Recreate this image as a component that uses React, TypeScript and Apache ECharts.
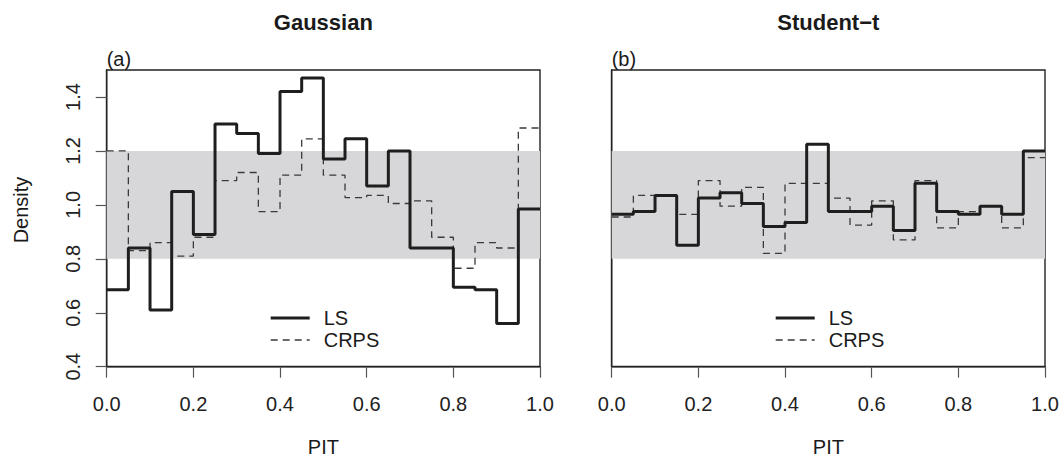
import React, { useEffect, useRef } from 'react';
import * as echarts from 'echarts';

const binEdges = [0, 0.05, 0.1, 0.15, 0.2, 0.25, 0.3, 0.35, 0.4, 0.45, 0.5, 0.55, 0.6, 0.65, 0.7, 0.75, 0.8, 0.85, 0.9, 0.95, 1.0];

const gaussLS = [0.685, 0.84, 0.61, 1.05, 0.89, 1.3, 1.265, 1.19, 1.42, 1.47, 1.17, 1.245, 1.07, 1.2, 0.84, 0.84, 0.695, 0.685, 0.56, 0.985];
const gaussCRPS = [1.2, 0.83, 0.86, 0.81, 0.88, 1.09, 1.12, 0.975, 1.11, 1.245, 1.11, 1.027, 1.035, 1.005, 1.015, 0.88, 0.765, 0.86, 0.84, 1.285];
const studLS = [0.965, 0.975, 1.035, 0.85, 1.025, 1.045, 1.005, 0.92, 0.935, 1.225, 0.975, 0.975, 0.995, 0.905, 1.08, 0.975, 0.965, 0.995, 0.965, 1.2];
const studCRPS = [0.955, 1.035, 1.035, 0.965, 1.09, 0.995, 1.065, 0.82, 1.08, 1.08, 1.025, 0.925, 1.015, 0.87, 1.09, 0.915, 0.975, 0.995, 0.915, 1.175];

const bandRange = [0.8, 1.2];
const xTicks = [0, 0.2, 0.4, 0.6, 0.8, 1.0];
const yTicks = [0.4, 0.6, 0.8, 1.0, 1.2, 1.4];
const panelTitles = ['Gaussian', 'Student\u2212t'];
const panelTags = ['(a)', '(b)'];
const legendNames = ['LS', 'CRPS'];

const toSteps = (vals: number[]) =>
  binEdges.map((e, i) => [e, vals[Math.min(i, vals.length - 1)]]);

const FONT = 'Liberation Sans, Arial, Helvetica, sans-serif';
const FS = 20;
const GRID_LEFTS = [106.7, 611.7];
const GRID_TOP = 70;
const GRID_W = 433.3;
const GRID_H = 296.7;

function buildOption() {
  const grids = GRID_LEFTS.map((left) => ({
    left,
    top: GRID_TOP,
    width: GRID_W,
    height: GRID_H,
    show: true,
    borderColor: '#222',
    borderWidth: 1.4,
    backgroundColor: 'transparent',
  }));

  const xAxes = GRID_LEFTS.map((_, gi) => ({
    type: 'value',
    gridIndex: gi,
    min: xTicks[0],
    max: xTicks[xTicks.length - 1],
    interval: 0.2,
    axisLine: { show: true, onZero: false, lineStyle: { color: '#222', width: 1.4 } },
    axisTick: { show: true, length: 11, lineStyle: { color: '#555', width: 1.2 } },
    axisLabel: {
      fontSize: FS,
      fontFamily: FONT,
      color: '#222',
      margin: 27,
      formatter: (v: number) => v.toFixed(1),
    },
    splitLine: { show: false },
  }));

  const yAxes = GRID_LEFTS.map((_, gi) => ({
    type: 'value',
    gridIndex: gi,
    min: yTicks[0],
    max: 1.5,
    interval: 0.2,
    axisLine: { show: true, onZero: false, lineStyle: { color: '#222', width: 1.4 } },
    axisTick: { show: gi === 0, length: 11, lineStyle: { color: '#555', width: 1.2 } },
    axisLabel: {
      show: gi === 0,
      rotate: 90,
      fontSize: FS,
      fontFamily: FONT,
      color: '#222',
      margin: 24,
      showMaxLabel: false,
      formatter: (v: number) => (yTicks.some((t) => Math.abs(t - v) < 1e-6) ? v.toFixed(1) : ''),
    },
    splitLine: { show: false },
  }));

  const panels = [
    { ls: gaussLS, crps: gaussCRPS },
    { ls: studLS, crps: studCRPS },
  ];

  const series: any[] = [];
  panels.forEach((p, gi) => {
    series.push({
      type: 'line',
      xAxisIndex: gi,
      yAxisIndex: gi,
      data: [],
      silent: true,
      z: 1,
      markArea: {
        silent: true,
        itemStyle: { color: '#d7d7d9' },
        data: [[{ yAxis: bandRange[0] }, { yAxis: bandRange[1] }]],
      },
    });
    series.push({
      type: 'line',
      name: legendNames[1] + gi,
      xAxisIndex: gi,
      yAxisIndex: gi,
      step: 'end',
      data: toSteps(p.crps),
      showSymbol: false,
      symbol: 'none',
      z: 3,
      lineStyle: { color: '#3a3a3a', width: 1.3, type: [7, 5] },
    });
    series.push({
      type: 'line',
      name: legendNames[0] + gi,
      xAxisIndex: gi,
      yAxisIndex: gi,
      step: 'end',
      data: toSteps(p.ls),
      showSymbol: false,
      symbol: 'none',
      z: 4,
      lineStyle: { color: '#1e1e1e', width: 3 },
    });
  });

  const graphic: any[] = [];
  GRID_LEFTS.forEach((left, gi) => {
    const cx = left + GRID_W / 2;
    graphic.push({
      type: 'text',
      x: cx,
      y: 22,
      style: {
        text: panelTitles[gi],
        font: `bold 22px ${FONT}`,
        fill: '#1a1a1a',
        textAlign: 'center',
        textVerticalAlign: 'middle',
      },
    });
    graphic.push({
      type: 'text',
      x: left,
      y: 59,
      style: {
        text: panelTags[gi],
        font: `${FS}px ${FONT}`,
        fill: '#1a1a1a',
        textAlign: 'left',
        textVerticalAlign: 'middle',
      },
    });
    graphic.push({
      type: 'text',
      x: cx,
      y: 447,
      style: {
        text: 'PIT',
        font: `${FS}px ${FONT}`,
        fill: '#1a1a1a',
        textAlign: 'center',
        textVerticalAlign: 'middle',
      },
    });
    const lx = left + 164;
    graphic.push({
      type: 'line',
      shape: { x1: lx, y1: 318, x2: lx + 39, y2: 318 },
      style: { stroke: '#1e1e1e', lineWidth: 3 },
    });
    graphic.push({
      type: 'line',
      shape: { x1: lx, y1: 340, x2: lx + 39, y2: 340 },
      style: { stroke: '#3a3a3a', lineWidth: 1.3, lineDash: [7, 5] },
    });
    graphic.push({
      type: 'text',
      x: lx + 53,
      y: 318,
      style: {
        text: legendNames[0],
        font: `${FS}px ${FONT}`,
        fill: '#1a1a1a',
        textAlign: 'left',
        textVerticalAlign: 'middle',
      },
    });
    graphic.push({
      type: 'text',
      x: lx + 53,
      y: 340,
      style: {
        text: legendNames[1],
        font: `${FS}px ${FONT}`,
        fill: '#1a1a1a',
        textAlign: 'left',
        textVerticalAlign: 'middle',
      },
    });
  });
  graphic.push({
    type: 'text',
    x: 21,
    y: 210,
    rotation: Math.PI / 2,
    style: {
      text: 'Density',
      font: `${FS}px ${FONT}`,
      fill: '#1a1a1a',
      textAlign: 'center',
      textVerticalAlign: 'middle',
    },
  });

  return {
    animation: false,
    backgroundColor: '#ffffff',
    textStyle: { fontFamily: FONT },
    grid: grids,
    xAxis: xAxes,
    yAxis: yAxes,
    series,
    graphic,
  };
}

export default function App() {
  const ref = useRef<HTMLDivElement>(null);
  useEffect(() => {
    if (!ref.current) return;
    const chart = echarts.init(ref.current, null, { renderer: 'svg' });
    chart.setOption(buildOption() as any);
    return () => chart.dispose();
  }, []);
  return (
    <div
      ref={ref}
      style={{ position: 'fixed', left: 0, top: 0, width: 1062, height: 465 }}
    />
  );
}
